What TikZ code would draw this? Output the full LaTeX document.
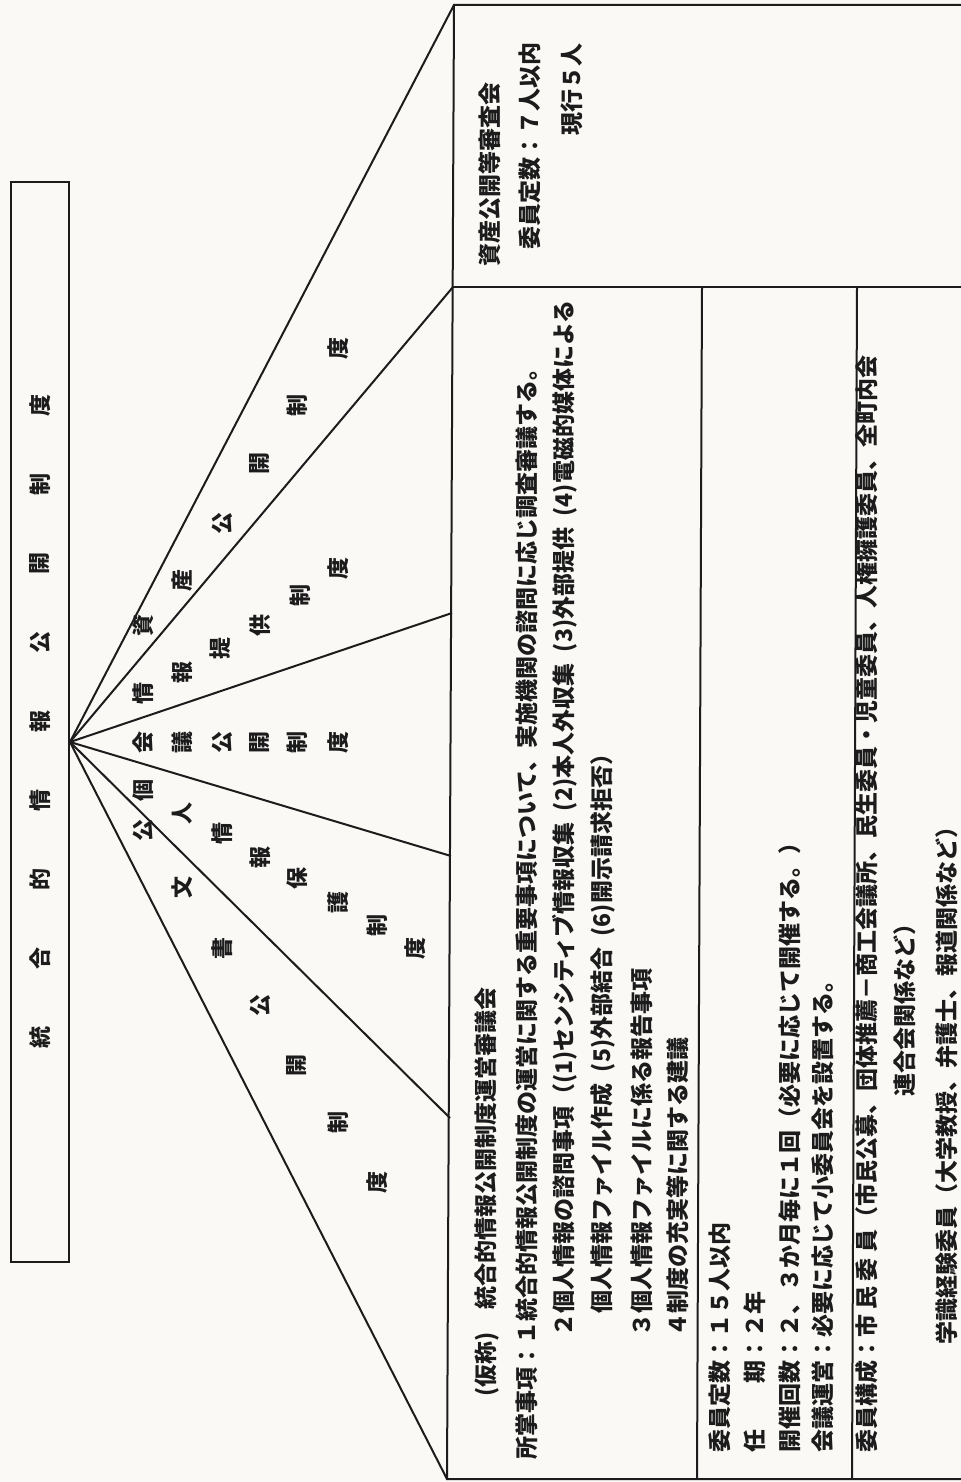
\documentclass[tikz,border=0pt]{standalone}
\usepackage{fontspec}
\setmainfont{Noto Sans CJK JP}
\definecolor{paper}{RGB}{250,249,246}
\definecolor{ink}{RGB}{28,28,28}
\newcommand{\gapx}{\hspace{0.5em}}
\tikzset{
  ln/.style={line width=1pt, draw=ink},
  fc/.style={font=\bfseries\fontsize{11pt}{11pt}\selectfont, rotate=90, inner sep=0pt, text=ink},
  tx/.style={font=\bfseries\fontsize{11.5pt}{11.5pt}\selectfont, rotate=90, anchor=west, inner sep=0pt, text=ink},
}
\begin{document}
\begin{tikzpicture}[x=0.5pt,y=-0.5pt]
\fill[paper] (0,0) rectangle (961,1482);
\useasboundingbox (0,0) rectangle (961,1482);
\clip (0,0) rectangle (961,1482);

% header box
\draw[ink, line width=1.4pt] (11,182) rectangle (69,1262);
\foreach \c [count=\i from 0] in {統,合,的,情,報,公,開,制,度}
  \node[fc] (h\i) at (40,{1037-79*\i}) {\c};

% fan
\coordinate (apex) at (70,742);
\coordinate (c1) at (454,5);
\coordinate (c2) at (453,287);
\coordinate (c3) at (452,613);
\coordinate (c4) at (451,856);
\coordinate (c5) at (450,1118);
\coordinate (c6) at (447,1479);
\foreach \k in {1,...,6} \draw[ln] (apex) -- (c\k);

\foreach \c/\x/\y [count=\i] in {資/143/625,産/182/580,公/222/523,開/260/463,制/297/405,度/338/348}
  \node[fc] (a\i) at (\x,\y) {\c};
\foreach \c/\x/\y [count=\i] in {情/143/693,報/182/672,提/220/648,供/260/625,制/300/595,度/338/568}
  \node[fc] (b\i) at (\x,\y) {\c};
\foreach \c/\x/\y [count=\i] in {会/143/742,議/182/742,公/222/742,開/260/742,制/297/742,度/338/742}
  \node[fc] (d\i) at (\x,\y) {\c};
\foreach \c/\x/\y [count=\i] in {個/143/790,人/182/813,情/222/833,報/260/857,保/297/878,護/338/902,制/377/925,度/415/948}
  \node[fc] (e\i) at (\x,\y) {\c};
\foreach \c/\x/\y [count=\i] in {公/143/830,文/182/887,書/222/948,公/260/1005,開/297/1065,制/338/1122,度/377/1182}
  \node[fc] (f\i) at (\x,\y) {\c};

% right boxes
\draw[ln] (975,5) -- (c1) -- (c6) -- (975,1479);
\draw[ln] (c2) -- (975,287);
\draw[ln] (702,287) -- (697,1479);
\draw[ln] (857,287) -- (852,1479);

% top box text
\node[tx] (t1) at (490,267) {資産公開等審査会};
\node[tx] (t2) at (530,250) {委員定数：７人以内};
\node[tx, anchor=east] (t3) at (572,43) {現行５人};

% lower left column
\node[tx] (l1) at (487,1397) {(仮称)　統合的情報公開制度運営審議会};
\node[tx] (l2) at (527,1460) {所掌事項：１統合的情報公開制度の運営に関する重要事項について、実施機関の諮問に応じ調査審議する。};
\node[tx] (l3) at (565,1337) {２個人情報の諮問事項（(1)センシティブ情報収集\gapx(2)本人外収集\gapx(3)外部提供\gapx(4)電磁的媒体による};
\node[tx] (l4) at (603,1314) {個人情報ファイル作成\gapx(5)外部結合\gapx(6)開示請求拒否）};
\node[tx] (l5) at (642,1337) {３個人情報ファイルに係る報告事項};
\node[tx] (l6) at (678,1337) {４制度の充実等に関する建議};

% middle column
\node[tx] (m1) at (720,1453) {委員定数：１５人以内};
\node[tx] (m2) at (755,1453) {任　　期：２年};
\node[tx] (m3) at (790,1453) {開催回数：２、３か月毎に１回（必要に応じて開催する。）};
\node[tx] (m4) at (823,1453) {会議運営：必要に応じて小委員会を設置する。};

% right column
\node[tx] (r1) at (867,1453) {委員構成：市 民 委 員（市民公募、団体推薦－商工会議所、民生委員・児童委員、人権擁護委員、全町内会};
\node[tx] (r2) at (905,1097) {連合会関係など）};
\node[tx] (r3) at (947,1345) {学識経験委員（大学教授、弁護士、報道関係など）};
\end{tikzpicture}
\end{document}
